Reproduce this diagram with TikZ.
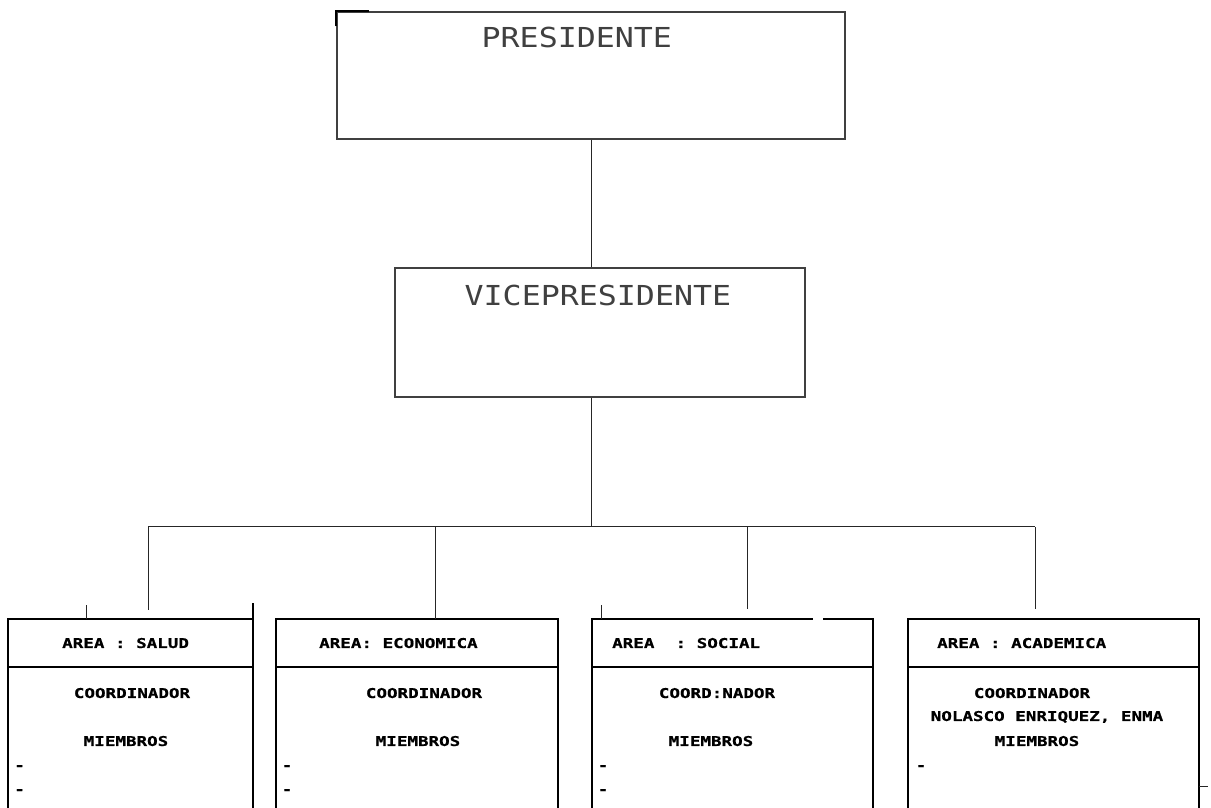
\documentclass[tikz,border=0pt]{standalone}
\usepackage{fontspec}
\newfontfamily\rankfam[FakeStretch=1.15]{DejaVu Sans Mono}
\newfontfamily\areafam[FakeStretch=1.3, FakeBold=0.6]{DejaVu Sans Mono}
\newcommand{\rankfont}{\rankfam\fontsize{27.5}{28}\selectfont}
\newcommand{\areafont}{\areafam\bfseries\fontsize{13.5}{14}\selectfont}
\usetikzlibrary{positioning}

\begin{document}
\begin{tikzpicture}[x=1pt, y=1pt,
    rankbox/.style={draw=black!75, line width=1.1pt, inner sep=0pt},
    ranktext/.style={font=\rankfont, text=black!75, inner sep=0pt},
    areahead/.style={minimum height=48pt, inner sep=0pt},
    areatext/.style={font=\areafont, inner sep=0pt, text height=10pt, text depth=0pt},
    link/.style={draw=black!85, line width=1pt},
    frame/.style={draw=black, line width=1.7pt}
]
  \useasboundingbox (0,0) rectangle (1211,808);
  \coordinate (floor) at (0,0);

  % Cargos
  \node[rankbox, minimum width=508pt, minimum height=127pt] (pres) at (591,732.5) {};
  \node[rankbox, minimum width=410pt, minimum height=129pt] (vice) at (600,475.5) {};
  \node[ranktext, below right=15pt and 145pt of pres.north west] (prestxt) {PRESIDENTE};
  \node[ranktext, below right=17pt and 70pt of vice.north west] (vicetxt) {VICEPRESIDENTE};
  \draw[line width=2pt] ([yshift=-15pt]pres.north west) -- (pres.north west) -- ++(33,0);

  % Areas
  \node[areahead, minimum width=245pt] (hdr1) at (130.5,165) {};
  \node[areahead, minimum width=282pt] (hdr2) at (417,165) {};
  \node[areahead, minimum width=281pt] (hdr3) at (732.5,165) {};
  \node[areahead, minimum width=291pt] (hdr4) at (1053.5,165) {};

  \draw[frame] (hdr1.south west |- floor) -- (hdr1.north west) -- (hdr1.north east);
  \draw[frame] (hdr1.south east |- floor) -- ([yshift=16pt]hdr1.north east);
  \draw[frame] (hdr2.south west |- floor) -- (hdr2.north west) -- (hdr2.north east) -- (hdr2.south east |- floor);
  \draw[frame] (hdr3.south west |- floor) -- (hdr3.north west) -- ++(221,0);
  \draw[frame] ([xshift=-50pt]hdr3.north east) -- (hdr3.north east) -- (hdr3.south east |- floor);
  \draw[frame] (hdr4.south west |- floor) -- (hdr4.north west) -- (hdr4.north east) -- (hdr4.south east |- floor);
  \draw[frame] (hdr1.south west) -- (hdr1.south east);
  \draw[frame] (hdr2.south west) -- (hdr2.south east);
  \draw[frame] (hdr3.south west) -- (hdr3.south east);
  \draw[frame] (hdr4.south west) -- (hdr4.south east);
  \draw[link] ([xshift=79pt]hdr1.north west) -- ++(0,14);
  \draw[link] ([xshift=10pt]hdr3.north west) -- ++(0,14);
  \draw[link] (hdr4.south east |- floor) ++(0,21) -- ++(9,0);

  \node[areatext, anchor=west] (area1) at (62,165) {AREA : SALUD};
  \node[areatext, anchor=west] (area2) at (319,165) {AREA: ECONOMICA};
  \node[areatext, anchor=west] (area3) at (612,165) {AREA\ \ : SOCIAL};
  \node[areatext, anchor=west] (area4) at (937,165) {AREA : ACADEMICA};

  \node[areatext] (coord1) at (132,115) {COORDINADOR};
  \node[areatext] (memb1) at (126,67) {MIEMBROS};
  \node[areatext] (coord2) at (424,115) {COORDINADOR};
  \node[areatext] (memb2) at (418,67) {MIEMBROS};
  \node[areatext] (coord3) at (717,115) {COORD:NADOR};
  \node[areatext] (memb3) at (711,67) {MIEMBROS};
  \node[areatext] (coord4) at (1032,115) {COORDINADOR};
  \node[areatext] (name4) at (1047,92) {NOLASCO ENRIQUEZ, ENMA};
  \node[areatext] (memb4) at (1037,67) {MIEMBROS};

  \node[areatext] (dash1a) at (19.5,43) {-};
  \node[areatext] (dash1b) at (19.5,19) {-};
  \node[areatext] (dash2a) at (287,43) {-};
  \node[areatext] (dash2b) at (287,19) {-};
  \node[areatext] (dash3a) at (603,43) {-};
  \node[areatext] (dash3b) at (603,19) {-};
  \node[areatext] (dash4a) at (921,43) {-};

  % Conectores
  \coordinate (hub) at (591,281);
  \coordinate (d1) at (148,198);
  \coordinate (d2) at (435,198);
  \coordinate (d3) at (747,199);
  \coordinate (d4) at (1035,199);
  \draw[link] (pres.south) -- (pres.south |- vice.north);
  \draw[link] (hub |- vice.south) -- (hub);
  \draw[link] (d1 |- hub) -- (d4 |- hub);
  \draw[link] (d1 |- hub) -- (d1);
  \draw[link] (d2 |- hub) -- (d2 |- hdr2.north);
  \draw[link] (d3 |- hub) -- (d3);
  \draw[link] (d4 |- hub) -- (d4);
\end{tikzpicture}
\end{document}
